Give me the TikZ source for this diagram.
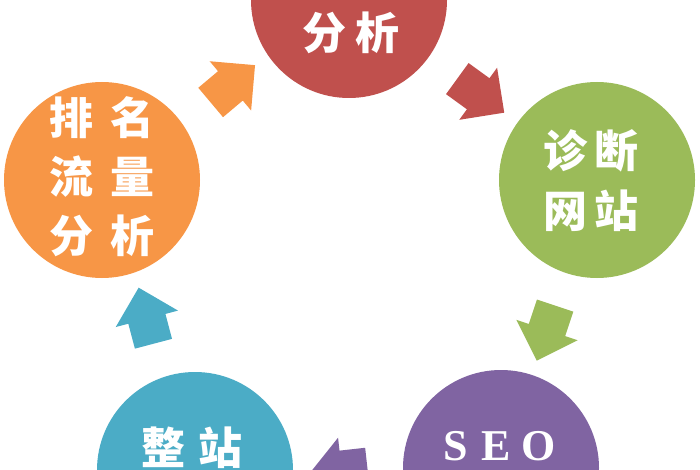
\documentclass[tikz,border=0pt]{standalone}
\usepackage{fontspec}
\setmainfont{Liberation Serif}
\newfontfamily\cjk{Noto Sans CJK SC}
\usetikzlibrary{positioning, shapes.arrows}
\definecolor{redc}{HTML}{C0504D}
\definecolor{greenc}{HTML}{9BBB59}
\definecolor{purplec}{HTML}{8064A2}
\definecolor{bluec}{HTML}{4BACC6}
\definecolor{orangec}{HTML}{F79646}
\tikzset{
bubble/.style={circle, minimum size=196pt, inner sep=0pt}, % the five coloured circles
word/.style={text=white, font=\cjk\bfseries\fontsize{44}{60}\selectfont, align=center}, % white labels inside the circles
pointer/.style={single arrow, minimum height=58pt, minimum width=64pt, inner sep=19pt, single arrow head extend=13pt, sloped, allow upside down}, % the fat arrows between the circles
}

\begin{document}
\begin{tikzpicture}[x=1pt, y=-1pt]
       \useasboundingbox (0,0) rectangle (700,470);
       \node[bubble, fill=redc] (analyse) at (349,0) {};
       \node[bubble, fill=greenc] (diagnose) at (597,180) {};
       \node[bubble, fill=purplec] (seo) at (501,468) {};
       \node[bubble, fill=bluec] (rebuild) at (195,470) {};
       \node[bubble, fill=orangec] (rank) at (102,180) {};

       \node[word] at ([shift={(2,33)}]analyse.center) {分\hspace{9pt}析};
       \node[word] at ([shift={(-6,1)}]diagnose.center) {诊\hspace{7pt}断\\网\hspace{7pt}站};
       \node[word, font=\bfseries\fontsize{44}{50}\selectfont] at ([shift={(-1,-22)}]seo.center) {S\hspace{13pt}E\hspace{11pt}O};
       \node[word] at ([shift={(-3,-22)}]rebuild.center) {整\hspace{14pt}站};
       \node[word, font=\cjk\bfseries\fontsize{44}{59}\selectfont] at ([shift={(0,-3)}]rank.center) {排\hspace{18pt}名\\流\hspace{18pt}量\\分\hspace{18pt}析};

       \path (rank) -- node[pointer, fill=orangec, rotate=4] {} (analyse)
             (analyse) -- node[pointer, fill=redc] {} (diagnose)
             (diagnose) -- node[pointer, fill=greenc] {} (seo)
             (seo) -- node[pointer, fill=purplec, rotate=6] {} (rebuild)
             (rebuild) -- node[pointer, fill=bluec, rotate=-3] {} (rank);
    \end{tikzpicture}
\end{document}
